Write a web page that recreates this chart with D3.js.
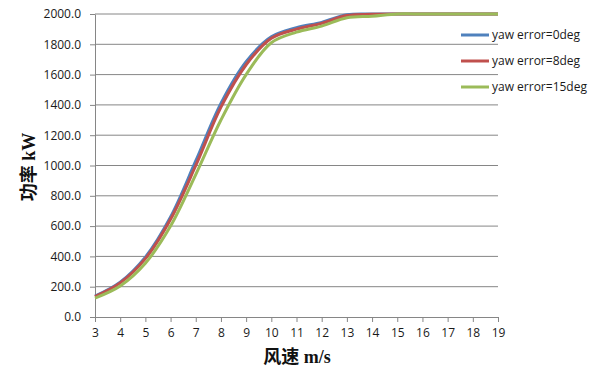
<!DOCTYPE html>
<html>
<head>
<meta charset="utf-8">
<script src="https://cdn.jsdelivr.net/npm/d3@7"></script>
<style>
  body { margin: 0; background: #fff; }
  .tick text { font-family: "Open Sans", "Liberation Sans", sans-serif; font-size: 12px; fill: #1a1a1a; }
</style>
</head>
<body>
<div id="chart"></div>
<script>
const windSpeed = [3, 4, 5, 6, 7, 8, 9, 10, 11, 12, 13, 14, 15, 16, 17, 18, 19];
const yaw0 = [138, 230, 395, 660, 1030, 1410, 1685, 1850, 1910, 1945, 1995, 2000, 2000, 2000, 2000, 2000, 2000];
const yaw8 = [135, 225, 385, 645, 1000, 1385, 1665, 1840, 1900, 1938, 1990, 1998, 2000, 2000, 2000, 2000, 2000];
const yaw15 = [125, 205, 355, 600, 940, 1300, 1600, 1810, 1880, 1920, 1975, 1985, 2000, 2000, 2000, 2000, 2000];
const seriesNames = ['yaw error=0deg', 'yaw error=8deg', 'yaw error=15deg'];
const colors = ['#4F81BD', '#C0504D', '#9BBB59'];
const yTicks = [0, 200, 400, 600, 800, 1000, 1200, 1400, 1600, 1800, 2000];

const width = 601;
const height = 372;
const margin = { top: 14, right: 103, bottom: 55, left: 95 };
const w = width - margin.left - margin.right;
const h = height - margin.top - margin.bottom;

const xScale = d3.scaleLinear().domain([3, 19]).range([0, w]);
const yScale = d3.scaleLinear().domain([0, 2000]).range([h, 0]);

const svg = d3.select('#chart').append('svg')
  .attr('width', width)
  .attr('height', height);

const g = svg.append('g')
  .attr('transform', `translate(${margin.left},${margin.top})`);

// gridlines
g.selectAll('.grid')
  .data(yTicks.slice(1))
  .enter().append('line')
  .attr('class', 'grid')
  .attr('x1', 0)
  .attr('x2', w)
  .attr('y1', d => yScale(d))
  .attr('y2', d => yScale(d))
  .attr('stroke', '#868686')
  .attr('stroke-width', 1);

const xAxis = d3.axisBottom(xScale)
  .tickValues(windSpeed)
  .tickFormat(d3.format('d'))
  .tickSize(5)
  .tickSizeOuter(0)
  .tickPadding(6);

const yAxis = d3.axisLeft(yScale)
  .tickValues(yTicks)
  .tickFormat(d3.format('.1f'))
  .tickSize(5)
  .tickSizeOuter(0)
  .tickPadding(9);

const gx = g.append('g')
  .attr('transform', `translate(0,${h})`)
  .call(xAxis);
const gy = g.append('g').call(yAxis);

[gx, gy].forEach((ax) => {
  ax.select('.domain').attr('stroke', '#868686');
  ax.selectAll('.tick line').attr('stroke', '#868686');
});

// lines
const allSeries = [yaw0, yaw8, yaw15];
const line = d3.line()
  .x((d, i) => xScale(windSpeed[i]))
  .y(d => yScale(d))
  .curve(d3.curveCatmullRom.alpha(0.5));

allSeries.forEach((s, i) => {
  g.append('path')
    .datum(s)
    .attr('fill', 'none')
    .attr('stroke', colors[i])
    .attr('stroke-width', 3)
    .attr('stroke-linejoin', 'round')
    .attr('d', line);
});

// legend
const legend = svg.append('g')
  .attr('transform', 'translate(461,35)');

const item = legend.selectAll('.item')
  .data(seriesNames)
  .enter().append('g')
  .attr('class', 'item')
  .attr('transform', (d, i) => `translate(0,${i * 26})`);

item.append('line')
  .attr('x1', 0)
  .attr('x2', 28)
  .attr('stroke', (d, i) => colors[i])
  .attr('stroke-width', 3);

item.append('text')
  .attr('x', 31)
  .attr('dy', '0.35em')
  .style('font-family', '"Open Sans", "Liberation Sans", sans-serif')
  .style('font-size', '12px')
  .attr('fill', '#1a1a1a')
  .text(d => d);

// axis titles
svg.append('text')
  .attr('transform', 'translate(35,167) rotate(-90)')
  .attr('text-anchor', 'middle')
  .style('font-family', '"Liberation Serif", "Noto Sans CJK SC", serif')
  .style('font-size', '18px')
  .style('font-weight', 'bold')
  .attr('fill', '#111')
  .text('功率 kW');

svg.append('text')
  .attr('x', 297)
  .attr('y', 363)
  .attr('text-anchor', 'middle')
  .style('font-family', '"Liberation Serif", "Noto Sans CJK SC", serif')
  .style('font-size', '18px')
  .style('font-weight', 'bold')
  .attr('fill', '#111')
  .text('风速 m/s');
</script>
</body>
</html>
